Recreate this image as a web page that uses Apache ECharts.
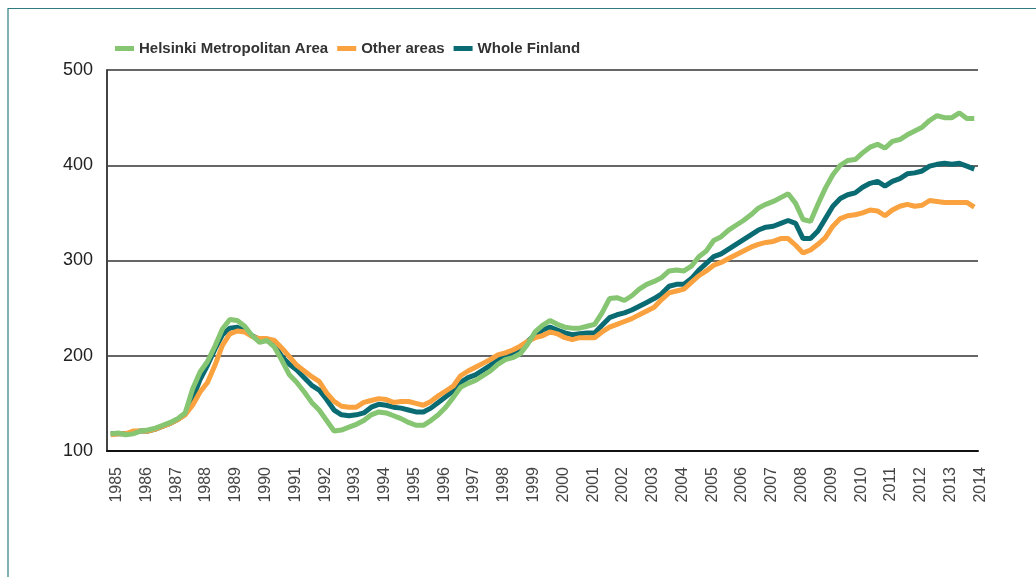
<!DOCTYPE html>
<html>
<head>
<meta charset="utf-8">
<script src="https://cdn.jsdelivr.net/npm/echarts@6/dist/echarts.min.js"></script>
<style>
  html, body { margin: 0; padding: 0; background: #fff; }
  #chart { width: 1036px; height: 577px; }
</style>
</head>
<body>
<div id="chart"></div>
<script>
// quarterly index, 1985Q1 .. 2014Q1
var years = [];
for (var y = 1985; y <= 2014; y++) years.push(y);

var quarters = [];
years.forEach(function (yr) {
  for (var q = 1; q <= 4; q++) {
    if (yr === 2014 && q > 1) break;
    quarters.push(yr + 'Q' + q);
  }
});

var helsinki = [
  118, 119, 117, 118, 121, 122, 124, 127, 130, 134, 140, 165,
  183, 194, 210, 228, 238, 237, 231, 221, 214, 216, 209, 195,
  180, 172, 162, 151, 143, 132, 121, 122, 125, 128, 132, 138,
  141, 140, 137, 134, 130, 127, 127, 132, 138, 146, 156, 167,
  171, 174, 179, 184, 191, 196, 198, 202, 212, 225, 232, 237,
  233, 230, 229, 229, 231, 233, 245, 260, 261, 258, 263, 270,
  275, 278, 282, 289, 290, 289, 294, 304, 310, 321, 325, 332,
  337, 342, 348, 355, 359, 362, 366, 370, 360, 343, 341, 359,
  376, 390, 400, 405, 406, 413, 419, 422, 418, 425, 427, 432,
  436, 440, 447, 452, 450, 450, 455, 449, 449
];

var otherAreas = [
  117, 118, 118, 121, 121, 121, 123, 126, 129, 133, 138, 148,
  162, 172, 190, 211, 223, 226, 225, 220, 218, 218, 216, 208,
  199, 190, 184, 178, 173, 161, 152, 147, 146, 146, 151, 153,
  155, 154, 151, 152, 152, 150, 148, 152, 158, 163, 168, 179,
  184, 188, 192, 196, 201, 203, 206, 210, 215, 219, 221, 225,
  223, 219, 217, 219, 219, 219, 225, 230, 233, 236, 239, 243,
  247, 251, 259, 266, 268, 270, 277, 284, 289, 295, 298, 302,
  306, 310, 314, 317, 319, 320, 323, 323, 316, 308, 311, 317,
  324, 336, 344, 347, 348, 350, 353, 352, 347, 353, 357, 359,
  357, 358, 363, 362, 361, 361, 361, 361, 356
];

var wholeFinland = [
  118, 118, 118, 119, 121, 121, 123, 126, 129, 133, 139, 155,
  175, 190, 207, 222, 229, 230, 226, 221, 217, 216, 211, 199,
  191, 185, 177, 169, 164, 154, 143, 138, 137, 138, 140, 146,
  149, 148, 146, 145, 143, 141, 141, 145, 151, 157, 163, 172,
  177, 180, 185, 190, 196, 200, 203, 207, 215, 222, 227, 230,
  227, 224, 222, 223, 224, 224, 232, 240, 243, 245, 248, 252,
  256, 260, 265, 273, 275, 275, 281, 290, 297, 304, 307, 312,
  317, 322, 327, 332, 335, 336, 339, 342, 339, 323, 323, 331,
  344, 357, 365, 369, 371, 377, 381, 383, 378, 383, 386, 391,
  392, 394, 399, 401, 402, 401, 402, 399, 396
];

var chart = echarts.init(document.getElementById('chart'));

var option = {
  animation: false,
  textStyle: { fontFamily: 'Liberation Sans, Arial, sans-serif' },
  graphic: [{
    type: 'polyline',
    shape: { points: [[8, 577], [8, 8.5], [1036, 8.5]] },
    style: { stroke: '#2f7c80', lineWidth: 1.2, fill: null },
    silent: true
  }],
  legend: {
    left: 110,
    top: 36,
    icon: 'rect',
    itemWidth: 19,
    itemHeight: 5,
    itemGap: 9,
    data: ['Helsinki Metropolitan Area', 'Other areas', 'Whole Finland'],
    textStyle: { fontSize: 15, fontWeight: 'bold', color: '#333' }
  },
  grid: { left: 107, right: 58, top: 70, bottom: 126 },
  xAxis: {
    type: 'category',
    data: quarters,
    boundaryGap: true,
    axisLine: { lineStyle: { color: '#111', width: 2 } },
    axisTick: { show: false },
    axisLabel: {
      interval: 3,
      rotate: 90,
      margin: 16,
      fontSize: 16,
      color: '#444',
      verticalAlign: 'top',
      lineHeight: 12,
      formatter: function (v) { return v.slice(0, 4); }
    },
    splitLine: { show: false }
  },
  yAxis: {
    type: 'value',
    min: 100,
    max: 500,
    interval: 100,
    axisLine: { show: true, lineStyle: { color: '#444', width: 2 } },
    axisTick: { show: false },
    axisLabel: { fontSize: 18, color: '#222', margin: 14 },
    splitLine: { lineStyle: { color: '#333', width: 1.5 } }
  },
  series: [
    {
      name: 'Whole Finland',
      type: 'line',
      data: wholeFinland,
      showSymbol: false,
      symbol: 'none',
      color: '#0b6b72',
      lineStyle: { width: 5, color: '#0b6b72' }
    },
    {
      name: 'Other areas',
      type: 'line',
      data: otherAreas,
      showSymbol: false,
      symbol: 'none',
      color: '#f9a23f',
      lineStyle: { width: 5, color: '#f9a23f' }
    },
    {
      name: 'Helsinki Metropolitan Area',
      type: 'line',
      data: helsinki,
      showSymbol: false,
      symbol: 'none',
      color: '#86c572',
      lineStyle: { width: 5, color: '#86c572' }
    }
  ]
};

chart.setOption(option);
</script>
</body>
</html>
